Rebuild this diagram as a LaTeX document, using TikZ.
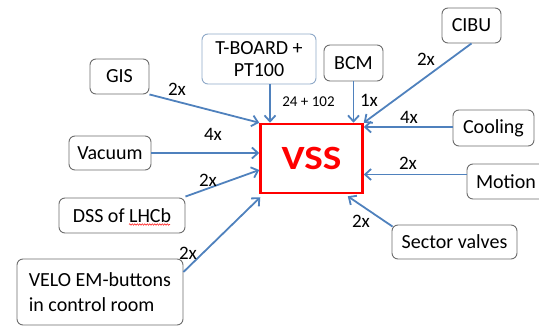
\documentclass[tikz,border=0pt]{standalone}
\usepackage{fontspec}
\setmainfont{Carlito}
\usetikzlibrary{arrows.meta,decorations.pathmorphing}
\definecolor{boxgray}{HTML}{6D6D6D}
\definecolor{tbblue}{HTML}{8EA9C8}
\definecolor{arrblue}{HTML}{4F81BD}
\definecolor{vssred}{HTML}{FF0000}
\begin{document}
\begin{tikzpicture}[x=1pt,y=-1pt,
  box/.style={draw=boxgray, line width=0.9pt, rounded corners=6pt, fill=white,
    font=\fontsize{20}{24}\selectfont, inner sep=0pt, align=center},
  lab/.style={font=\fontsize{19}{22}\selectfont, inner sep=0pt},
  arr/.style={draw=arrblue, line width=1.8pt, -{Straight Barb[length=6pt,width=11pt]}}]
\useasboundingbox (0,0) rectangle (539,326);

% VSS
\node[draw=vssred, line width=2.5pt, fill=white, minimum width=102pt, minimum height=69pt,
  text=vssred, font=\fontsize{34}{36}\selectfont\bfseries, inner sep=0pt] (vss) at (311.5,158.5)
  {\scalebox{1.15}[1]{VSS}};

% sources
\node[box, minimum width=59pt, minimum height=35pt] (gis) at (119.5,76.5) {GIS};
\node[box, draw=tbblue, minimum width=114pt, minimum height=50pt,
  font=\fontsize{20}{22}\selectfont] (tb) at (259,59) {T-BOARD +\\PT100};
\node[box, minimum width=59pt, minimum height=36pt] (bcm) at (353.5,63) {BCM};
\node[box, minimum width=59pt, minimum height=35pt] (cibu) at (471.5,25.5) {CIBU};
\node[box, minimum width=81pt, minimum height=36pt] (cool) at (493.5,128) {Cooling};
\node[box, minimum width=82pt, minimum height=34pt] (vac) at (110,153) {Vacuum};
\node[box, minimum width=92pt, minimum height=35pt, text width=92pt, align=left] (mot) at (513,181.5) {\hspace*{9pt}Motion};
\node[box, minimum width=125pt, minimum height=34pt] (sv) at (454.5,242) {Sector valves};
\node[box, minimum width=126pt, minimum height=35pt] (dss) at (122,215.5) {DSS of LHCb};
\node[box, minimum width=166pt, minimum height=66pt, align=left,
  font=\fontsize{20}{25}\selectfont] (velo) at (100,292) {VELO EM-buttons\\in control room};

% spell-check squiggle
\draw[vssred, line width=0.5pt, decorate, decoration={snake, amplitude=0.7pt, segment length=2.5pt}]
  (129,224.5) -- (170,224.5);

% connectors
\draw[arr] (gis.south east) -- (vss.north west);
\draw[arr] ([xshift=11pt]tb.south) -- ([xshift=11pt]tb.south |- vss.north);
\draw[arr] (bcm.south) -- (bcm.south |- vss.north);
\draw[arr] (cibu.south) -- (vss.north east);
\draw[arr] ([yshift=1pt]cool.west) -- ([yshift=1pt]vss.east |- cool.west);
\draw[arr] (vac.east) -- (vss.west |- vac.east);
\draw[arr] ([yshift=7pt]mot.west) -- ([yshift=7pt]vss.east |- mot.west);
\draw[arr] ([xshift=1pt,yshift=-2pt]sv.north west) -- ([xshift=-16pt,yshift=-2pt]vss.south east);
\draw[arr] ([yshift=1pt]dss.north east) -- ([yshift=-11.5pt]vss.west);
\draw[arr] ([yshift=20pt]velo.east) -- ([xshift=1pt,yshift=-3pt]vss.south west);

% labels
\node[lab] (l1) at (177,89) {2x};
\node[lab] (l2) at (213,134) {4x};
\node[lab, font=\fontsize{15}{18}\selectfont] (l3) at (308.5,101.5) {24 + 102};
\node[lab] (l4) at (369,100) {1x};
\node[lab] (l5) at (426,59) {2x};
\node[lab] (l6) at (409,117) {4x};
\node[lab] (l7) at (408,163) {2x};
\node[lab] (l8) at (361,221) {2x};
\node[lab] (l9) at (208,180) {2x};
\node[lab] (l10) at (188,253) {2x};
\end{tikzpicture}
\end{document}
